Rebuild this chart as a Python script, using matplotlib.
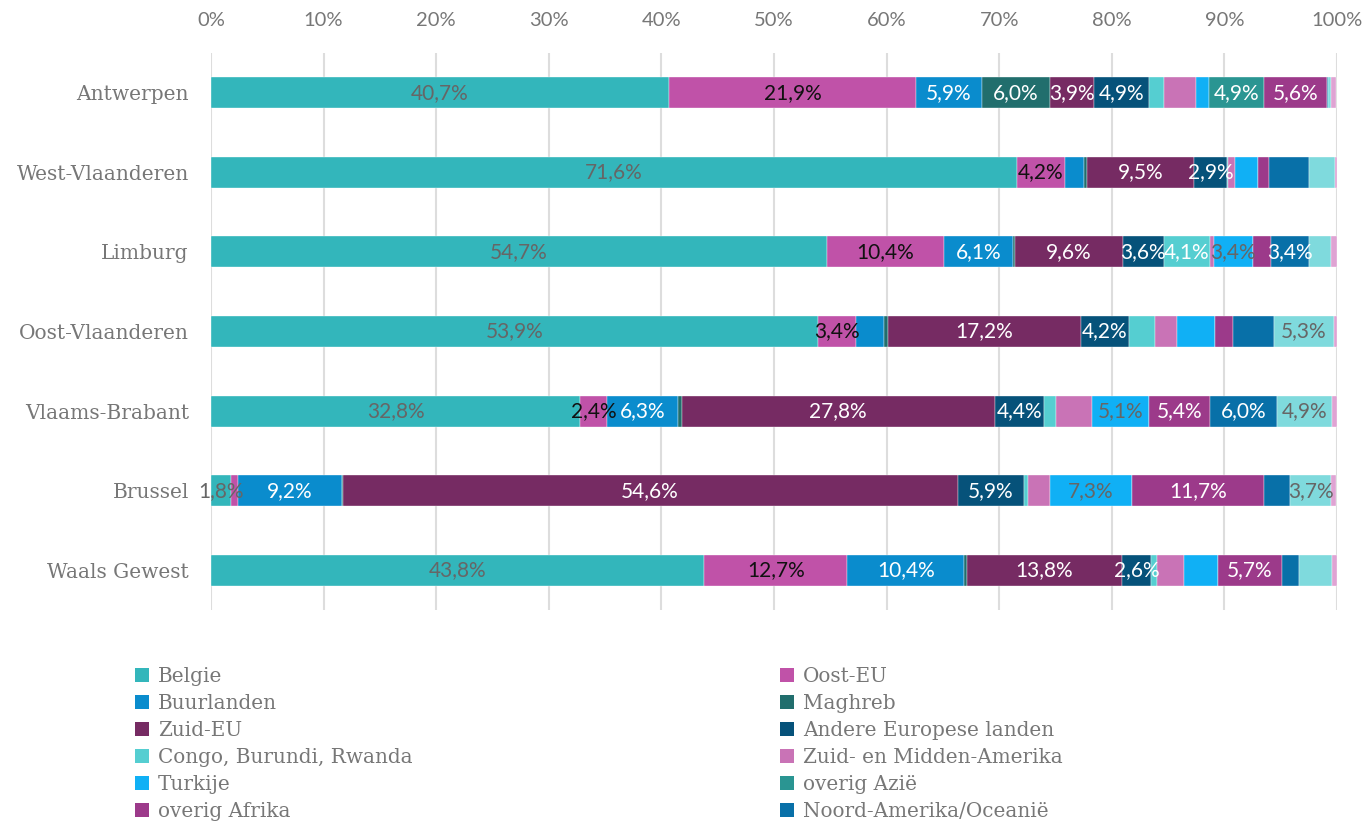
import matplotlib
matplotlib.use("Agg")
import matplotlib.pyplot as plt
from matplotlib.patches import Patch
import numpy as np

regions = ["Antwerpen", "West-Vlaanderen", "Limburg", "Oost-Vlaanderen",
           "Vlaams-Brabant", "Brussel", "Waals Gewest"]

categories = ["Belgie", "Oost-EU", "Buurlanden", "Maghreb", "Zuid-EU",
              "Andere Europese landen", "Congo, Burundi, Rwanda",
              "Zuid- en Midden-Amerika", "Turkije", "overig Azië",
              "overig Afrika", "Noord-Amerika/Oceanië", "overig", "onbekend"]

belgie     = [40.7, 71.6, 54.7, 53.9, 32.8, 1.8, 43.8]
oost_eu    = [21.9, 4.2, 10.4, 3.4, 2.4, 0.6, 12.7]
buurlanden = [5.9, 1.7, 6.1, 2.5, 6.3, 9.2, 10.4]
maghreb    = [6.0, 0.3, 0.2, 0.3, 0.3, 0.1, 0.2]
zuid_eu    = [3.9, 9.5, 9.6, 17.2, 27.8, 54.6, 13.8]
andere_eur = [4.9, 2.9, 3.6, 4.2, 4.4, 5.9, 2.6]
congo      = [1.3, 0.1, 4.1, 2.3, 1.0, 0.4, 0.5]
zm_amerika = [2.9, 0.6, 0.4, 2.0, 3.2, 1.9, 2.4]
turkije    = [1.1, 2.1, 3.4, 3.4, 5.1, 7.3, 3.0]
overig_azie = [4.9, 0.0, 0.0, 0.0, 0.0, 0.0, 0.0]
overig_afrika = [5.6, 1.0, 1.6, 1.6, 5.4, 11.7, 5.7]
noord_am   = [0.1, 3.5, 3.4, 3.6, 6.0, 2.3, 1.5]
overig     = [0.3, 2.3, 2.0, 5.3, 4.9, 3.7, 3.0]
onbekend   = [0.4, 0.2, 0.5, 0.3, 0.4, 0.4, 0.4]

series = [belgie, oost_eu, buurlanden, maghreb, zuid_eu, andere_eur, congo,
          zm_amerika, turkije, overig_azie, overig_afrika, noord_am, overig, onbekend]

# which segments carry a value label (1 = shown)
show_labels = [
    [1, 1, 1, 1, 1, 1, 1],   # Belgie
    [1, 1, 1, 1, 1, 0, 1],   # Oost-EU
    [1, 0, 1, 0, 1, 1, 1],   # Buurlanden
    [1, 0, 0, 0, 0, 0, 0],   # Maghreb
    [1, 1, 1, 1, 1, 1, 1],   # Zuid-EU
    [1, 1, 1, 1, 1, 1, 1],   # Andere Europese
    [0, 0, 1, 0, 0, 0, 0],   # Congo
    [0, 0, 0, 0, 0, 0, 0],   # Zuid- en Midden-Amerika
    [0, 0, 1, 0, 1, 1, 0],   # Turkije
    [1, 0, 0, 0, 0, 0, 0],   # overig Azie
    [1, 0, 0, 0, 1, 1, 1],   # overig Afrika
    [0, 0, 1, 0, 1, 0, 0],   # Noord-Amerika
    [0, 0, 0, 1, 1, 1, 0],   # overig
    [0, 0, 0, 0, 0, 0, 0],   # onbekend
]

colors = ["#33b6bb", "#c052a8", "#0a8ccd", "#216e6d", "#762b63", "#06527a",
          "#55ced1", "#c973b6", "#10b0f5", "#2a9592", "#9c3a8a", "#0870a8",
          "#7fdadd", "#dfa3d3"]
label_colors = ["#666666", "#111111", "white", "white", "white", "white",
                "white", "white", "#666666", "white", "white", "white",
                "#666666", "#666666"]

fig = plt.figure(figsize=(13.65, 8.25), dpi=100)
ax = fig.add_axes([211/1365, 1-610/825, (1337-211)/1365, (610-53)/825])

y = np.arange(len(regions))
left = np.zeros(len(regions))
for i, vals in enumerate(series):
    vals = np.array(vals)
    lbl = categories[i] if i < 12 else "_nolegend_"
    ax.barh(y, vals, left=left, height=0.39, color=colors[i], label=lbl,
            edgecolor="white", linewidth=0.25, zorder=3)
    for j, v in enumerate(vals):
        if show_labels[i][j]:
            ax.text(left[j] + v/2, y[j], f"{v:.1f}%".replace(".", ","),
                    ha="center", va="center", fontsize=15,
                    color=label_colors[i], family="Lato", zorder=4)
    left += vals

ax.set_xlim(0, 100)
ax.set_ylim(6.5, -0.5)
ax.set_xticks(np.arange(0, 101, 10))
ax.set_xticklabels([f"{t}%" for t in range(0, 101, 10)])
ax.xaxis.tick_top()
ax.tick_params(axis="x", length=0, pad=17, labelsize=14.5, labelcolor="#777777")
for lab in ax.get_xticklabels():
    lab.set_family("Lato")
ax.set_yticks(y)
ax.set_yticklabels(regions)
ax.tick_params(axis="y", length=0, pad=16, labelsize=14.5, labelcolor="#777777")
for lab in ax.get_yticklabels():
    lab.set_family("DejaVu Serif")
ax.grid(axis="x", color="#dddddd", linewidth=1.5, zorder=0)
ax.set_axisbelow(True)
for s in ax.spines.values():
    s.set_visible(False)

left_items = [0, 2, 4, 6, 8, 10]
right_items = [1, 3, 5, 7, 9, 11]
for items, xpos in [(left_items, 135/1365), (right_items, 780/1365)]:
    handles = [Patch(facecolor=colors[k], edgecolor="none") for k in items]
    labels = [categories[k] for k in items]
    fig.legend(handles, labels, loc="upper left",
               bbox_to_anchor=(xpos, 1-667/825), frameon=False,
               prop={"family": "DejaVu Serif", "size": 14.4},
               labelcolor="#777777", handlelength=0.7, handleheight=0.7,
               handletextpad=0.45, labelspacing=0.4, borderaxespad=0,
               borderpad=0)

fig.savefig("out.png", dpi=100)
